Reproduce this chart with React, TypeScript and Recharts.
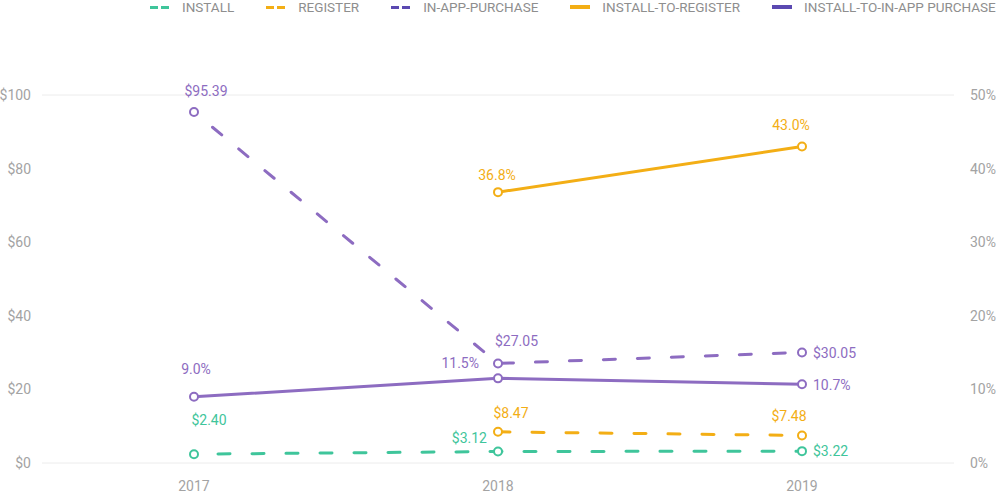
import React from 'react';
import { LineChart, Line, XAxis, YAxis, CartesianGrid } from 'recharts';

const years = ['2017', '2018', '2019'];
const install = [2.4, 3.12, 3.22];
const register = [null, 8.47, 7.48];
const inAppPurchase = [95.39, 27.05, 30.05];
const installToRegister = [null, 36.8, 43.0];
const installToInApp = [9.0, 11.5, 10.7];

const leftTicks = [0, 20, 40, 60, 80, 100];
const rightTicks = [0, 10, 20, 30, 40, 50];

const TEAL = '#3fc59b';
const ORANGE = '#f3ae15';
const PURPLE = '#8d6cc1';
const LEGEND_PURPLE = '#5b49b1';

const data = years.map((year, i) => ({
    year,
    install: install[i],
    register: register[i],
    iap: inAppPurchase[i],
    i2r: installToRegister[i],
    i2iap: installToInApp[i],
}));

const legendItems = [
    { name: 'INSTALL', color: TEAL, dashed: true },
    { name: 'REGISTER', color: ORANGE, dashed: true },
    { name: 'IN-APP-PURCHASE', color: LEGEND_PURPLE, dashed: true },
    { name: 'INSTALL-TO-REGISTER', color: ORANGE, dashed: false },
    { name: 'INSTALL-TO-IN-APP PURCHASE', color: LEGEND_PURPLE, dashed: false },
];

const money = (v: number) => '$' + v.toFixed(2);
const pct = (v: number) => v.toFixed(1) + '%';

// per point label placement: [dx, dy, anchor]
type Place = [number, number, 'start' | 'middle' | 'end'];

const makeLabel = (color: string, fmt: (v: number) => string, places: Place[]) => (props: any) => {
    const { x, y, value, index } = props;
    if (value == null || x == null) return null;
    const p = places[index];
    if (!p) return null;
    return (
        <text
            x={x + p[0]}
            y={y + p[1]}
            textAnchor={p[2]}
            dominantBaseline="central"
            fill={color}
            fontSize={14}
            fontFamily="Roboto"
        >
            {fmt(value)}
        </text>
    );
};

const dot = (color: string) => ({ r: 4, fill: '#fff', stroke: color, strokeWidth: 2, strokeDasharray: '' });

const tickStyle = { fill: '#a3a3a3', fontSize: 14, fontFamily: 'Roboto' };

const Legend = () => (
    <div style={{ position: 'absolute', top: 0, left: 150, display: 'flex', alignItems: 'center', height: 14, fontFamily: 'Roboto', fontSize: 13.5, lineHeight: '14px', color: '#8e8e8e', whiteSpace: 'nowrap' }}>
        {legendItems.map((it) => (
            <div key={it.name} style={{ display: 'flex', alignItems: 'center', marginRight: 32 }}>
                {it.dashed ? (
                    <span style={{ display: 'flex', gap: 3, marginRight: 13 }}>
                        <span style={{ width: 8, height: 3, background: it.color }} />
                        <span style={{ width: 8, height: 3, background: it.color }} />
                    </span>
                ) : (
                    <span style={{ width: 20, height: 4, background: it.color, marginRight: 12 }} />
                )}
                <span>{it.name}</span>
            </div>
        ))}
    </div>
);

export default function App() {
    return (
        <div style={{ position: 'absolute', left: 0, top: 0, width: 1000, height: 493, background: '#fff', overflow: 'hidden' }}>
            <Legend />
            <LineChart width={1000} height={493} data={data} margin={{ top: 95, right: 0, bottom: 0, left: 0 }}>
                <CartesianGrid vertical={false} stroke="#ececec" />
                <XAxis dataKey="year" axisLine={false} tickLine={false} height={30} tickMargin={12}
                    padding={{ left: 152, right: 152 }} tick={tickStyle} />
                <YAxis yAxisId="left" domain={[0, 100]} ticks={leftTicks} axisLine={false} tickLine={false} width={42}
                    tickMargin={5} tickFormatter={(v) => '$' + v} tick={tickStyle} />
                <YAxis yAxisId="right" orientation="right" domain={[0, 50]} ticks={rightTicks} axisLine={false} tickLine={false} width={46}
                    tickMargin={10} tickFormatter={(v) => v + '%'} tick={tickStyle} />

                <Line yAxisId="left" dataKey="install" stroke={TEAL} strokeWidth={3} strokeDasharray="12 22" strokeDashoffset={10}
                    strokeLinecap="round" dot={dot(TEAL)} isAnimationActive={false}
                    label={makeLabel(TEAL, money, [[15, -34, 'middle'], [-11, -14, 'end'], [11, 0, 'start']])} />
                <Line yAxisId="left" dataKey="register" stroke={ORANGE} strokeWidth={3} strokeDasharray="12 22"
                    strokeLinecap="round" dot={dot(ORANGE)} isAnimationActive={false}
                    label={makeLabel(ORANGE, money, [[0, 0, 'middle'], [13, -19, 'middle'], [-13, -19, 'middle']])} />
                <Line yAxisId="left" dataKey="iap" stroke={PURPLE} strokeWidth={3} strokeDasharray="12 22" strokeDashoffset={10}
                    strokeLinecap="round" dot={dot(PURPLE)} isAnimationActive={false}
                    label={makeLabel(PURPLE, money, [[12, -21, 'middle'], [-3, -22, 'start'], [11, 1, 'start']])} />
                <Line yAxisId="right" dataKey="i2r" stroke={ORANGE} strokeWidth={3}
                    dot={dot(ORANGE)} isAnimationActive={false}
                    label={makeLabel(ORANGE, pct, [[0, 0, 'middle'], [-1, -17, 'middle'], [-11, -22, 'middle']])} />
                <Line yAxisId="right" dataKey="i2iap" stroke={PURPLE} strokeWidth={3}
                    dot={dot(PURPLE)} isAnimationActive={false}
                    label={makeLabel(PURPLE, pct, [[2, -28, 'middle'], [-19, -15, 'end'], [11, 1, 'start']])} />
            </LineChart>
        </div>
    );
}
